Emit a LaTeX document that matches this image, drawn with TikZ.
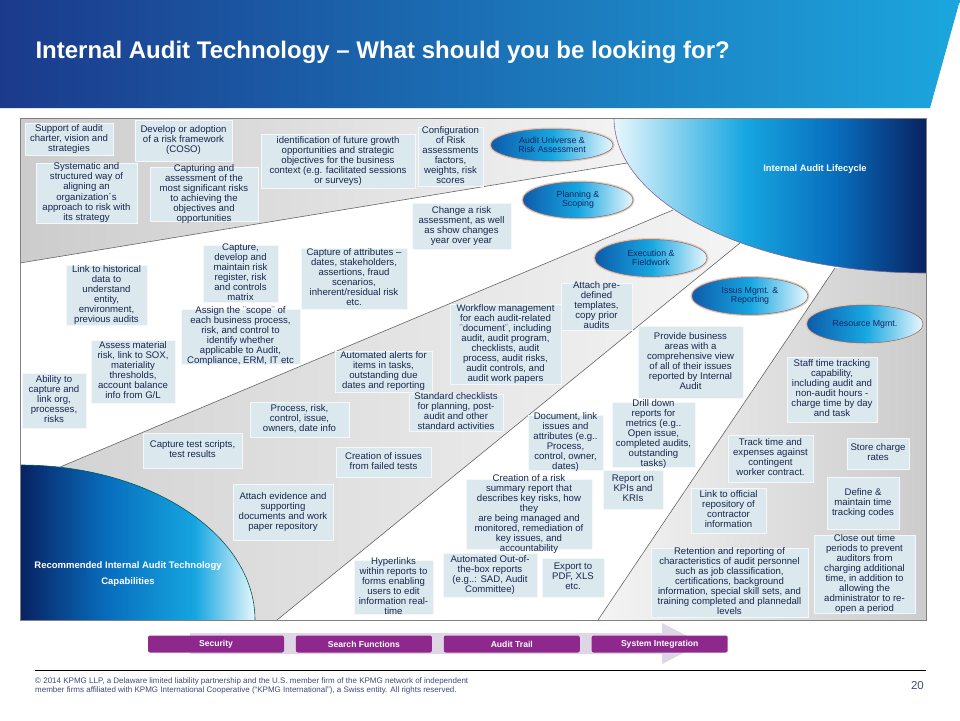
\documentclass[tikz,border=0pt]{standalone}
\usepackage{fontspec}
\setmainfont{Liberation Sans}
\usetikzlibrary{positioning,shapes.geometric}

\definecolor{bannerdark}{RGB}{27,58,140}
\definecolor{bannerlight}{RGB}{28,166,222}
\definecolor{featfill}{RGB}{219,232,238}
\definecolor{featline}{RGB}{244,248,250}
\definecolor{feattext}{RGB}{22,40,78}
\definecolor{bandgray}{RGB}{204,204,204}
\definecolor{bandpale}{RGB}{244,244,244}
\definecolor{navy}{RGB}{8,34,98}
\definecolor{deepblue}{RGB}{8,110,190}
\definecolor{cyanmid}{RGB}{22,166,224}
\definecolor{icepale}{RGB}{232,247,252}
\definecolor{ovaldark}{RGB}{14,92,172}
\definecolor{ovaltext}{RGB}{22,38,100}
\definecolor{ovalglow}{RGB}{222,204,170}
\definecolor{ovaledge}{RGB}{130,100,150}
\definecolor{plum}{RGB}{142,40,140}
\definecolor{lavender}{RGB}{222,214,228}
\definecolor{foottext}{RGB}{60,74,120}

% fixed size text box, text may run over its edges
\newcommand{\featbox}[3]{\vbox to #2pt{\vss\hbox to #1pt{\hss\begin{tabular}{@{}c@{}}#3\end{tabular}\hss}\vss}}

\begin{document}
\begin{tikzpicture}[x=1pt, y=-1pt,
    feat/.style = {rectangle, draw=featline, fill=featfill, inner sep=0pt,
                   text=feattext, font=\fontsize{9.6}{10}\selectfont},
    stage/.style = {ellipse, draw=ovaledge, line width=0.5pt,
                    preaction={draw=ovalglow, line width=3pt},
                    left color=ovaldark, right color=icepale, middle color=cyanmid,
                    inner sep=0pt, align=center, text=ovaltext,
                    font=\fontsize{8.8}{8.8}\selectfont},
    band/.style = {rectangle, rounded corners=2pt, fill=plum, text=white,
                   minimum width=136pt, minimum height=17pt, inner sep=0pt,
                   font=\bfseries\fontsize{8.6}{9}\selectfont},
    divider/.style = {draw=gray!80!black, line width=0.6pt}]
  \useasboundingbox (0,0) rectangle (960,720);

  % title banner
  \shade[left color=bannerdark, right color=bannerlight]
    (0,0) -- (960,0) -- (930,108) -- (0,108) -- cycle;
  \node (title) [anchor=west, text=white, font=\bfseries\fontsize{24}{26}\selectfont]
    at (32,52) {Internal Audit Technology – What should you be looking for?};

  % panel and bands
  \fill[white] (20,118) rectangle (926,620);
  \shade[left color=bandgray, right color=bandpale]
    (20,118) -- (640,118) -- (627,163) -- (20,263) -- cycle;
  \shade[left color=bandgray!90, right color=bandpale]
    (60,467) -- (673,210) -- (740,243) -- (277,620) -- (20,620) -- (20,465) -- cycle;
  \shade[left color=bandpale, right color=bandgray]
    (835,268) -- (926,268) -- (926,620) -- (598,620) -- cycle;
  \draw[divider] (20,263) -- (627,163);
  \draw[divider] (60,467) -- (673,210);
  \draw[divider] (277,620) -- (740,243);
  \draw[divider] (598,620) -- (835,268);

  % lifecycle and capabilities corners
  \begin{scope}
    \clip (926,118) ellipse [x radius=312pt, y radius=155pt];
    \shade[left color=icepale, right color=cyanmid] (614,118) rectangle (745.5,273);
    \shade[left color=cyanmid, right color=navy, middle color=deepblue] (745,118) rectangle (926,273);
  \end{scope}
  \begin{scope}
    \clip (20,620) ellipse [x radius=235pt, y radius=155pt];
    \shade[left color=navy, right color=cyanmid, middle color=deepblue] (20,465) rectangle (195.5,620);
    \shade[left color=cyanmid, right color=icepale] (195,465) rectangle (255,620);
  \end{scope}
  \begin{scope}
    \clip (20,118) rectangle (926,620);
    \draw[ovaledge, line width=0.6pt] (926,118) ellipse [x radius=312pt, y radius=155pt];
    \draw[teal!70!black, line width=0.6pt] (20,620) ellipse [x radius=235pt, y radius=155pt];
  \end{scope}
  \draw[gray] (20,118) rectangle (926,620);

  \node (lifecycle) [text=white, font=\bfseries\fontsize{9.4}{11}\selectfont]
    at (815,169) {Internal Audit Lifecycle};
  \node (recommended) [text=white, align=center, font=\bfseries\fontsize{9.5}{16}\selectfont]
    at (128,574) {Recommended Internal Audit Technology\\Capabilities};

  \node (universe) [stage, minimum width=122pt, minimum height=32pt] at (552,145) {Audit Universe \&\\Risk Assessment};
  \node (planning) [stage, minimum width=110pt, minimum height=36pt] at (578,200) {Planning \&\\Scoping};
  \node (execution) [stage, minimum width=112pt, minimum height=37pt] at (651,258) {Execution \&\\Fieldwork};
  \node (issues) [stage, minimum width=116pt, minimum height=37pt] at (750,296) {Issus Mgmt. \&\\Reporting};
  \node (resource) [stage, minimum width=116pt, minimum height=38pt] at (865,324) {Resource Mgmt.};

  % capability boxes
  \node (charter) [feat] at (69,139) {\featbox{88}{32}{Support of audit\\charter, vision and\\strategies}};
  \node (framework) [feat] at (183.5,140.5) {\featbox{97}{41}{Develop or adoption\\of a risk framework\\(COSO)}};
  \node (aligning) [feat] at (86.5,193) {\featbox{101}{60}{Systematic and\\structured way of\\aligning an\\organization´s\\approach to risk with\\its strategy}};
  \node (significant) [feat] at (204,194) {\featbox{108}{54}{Capturing and\\assessment of the\\most significant risks\\to achieving the\\objectives and\\opportunities}};
  \node (growth) [feat] at (338,161) {\featbox{154}{54}{identification of future growth\\opportunities and strategic\\objectives for the business\\context (e.g. facilitated sessions\\or surveys)}};
  \node (weights) [feat] at (450.5,156.5) {\featbox{65}{59}{Configuration\\of Risk\\assessments\\factors,\\weights, risk\\scores}};
  \node (history) [feat] at (106.5,295) {\featbox{81}{60}{Link to historical\\data to\\understand\\entity,\\environment,\\previous audits}};
  \node (register) [feat] at (240.5,273.5) {\featbox{75}{57}{Capture,\\develop and\\maintain risk\\register, risk\\and controls\\matrix}};
  \node (attributes) [feat] at (354,278.5) {\featbox{106}{61}{Capture of attributes –\\dates, stakeholders,\\assertions, fraud\\scenarios,\\inherent/residual risk\\etc.}};
  \node (change) [feat] at (461.5,226) {\featbox{99}{46}{Change a risk\\assessment, as well\\as show changes\\year over year}};
  \node (templates) [feat] at (596.5,306.5) {\featbox{71}{47}{Attach pre-\\defined\\templates,\\copy prior\\audits}};
  \node (scope) [feat] at (240.5,336.5) {\featbox{119}{55}{Assign the ¨scope¨ of\\each business process,\\risk, and control to\\identify whether\\applicable to Audit,\\Compliance, ERM, IT etc}};
  \node (material) [feat] at (133,371.5) {\featbox{84}{63}{Assess material\\risk, link to SOX,\\materiality\\thresholds,\\account balance\\info from G/L}};
  \node (linkorg) [feat] at (54,400.5) {\featbox{64}{55}{Ability to\\capture and\\link org,\\processes,\\risks}};
  \node (scripts) [feat] at (192.5,450.5) {\featbox{99}{35}{Capture test scripts,\\test results}};
  \node (owners) [feat] at (299.5,419.5) {\featbox{99}{35}{Process, risk,\\control, issue,\\owners, date info}};
  \node (alerts) [feat] at (383.5,371.5) {\featbox{97}{41}{Automated alerts for\\items in tasks,\\outstanding due\\dates and reporting}};
  \node (workflow) [feat] at (505.5,344) {\featbox{111}{80}{Workflow management\\for each audit-related\\¨document¨, including\\audit, audit program,\\checklists, audit\\process, audit risks,\\audit controls, and\\audit work papers}};
  \node (checklists) [feat] at (456,412.5) {\featbox{94}{37}{Standard checklists\\for planning, post-\\audit and other\\standard activities}};
  \node (failed) [feat] at (383.5,462) {\featbox{95}{30}{Creation of issues\\from failed tests}};
  \node (linkissues) [feat] at (565.5,442.5) {\featbox{75}{55}{Document, link\\issues and\\attributes (e.g..\\Process,\\control, owner,\\dates)}};
  \node (issueview) [feat] at (690.5,362) {\featbox{105}{72}{Provide business\\areas with a\\comprehensive view\\of all of their issues\\reported by Internal\\Audit}};
  \node (drill) [feat] at (653.5,434.5) {\featbox{83}{65}{Drill down\\reports for\\metrics (e.g..\\Open issue,\\completed audits,\\outstanding\\tasks)}};
  \node (kpi) [feat] at (633,489.5) {\featbox{60}{39}{Report on\\KPIs and\\KRIs}};
  \node (stafftime) [feat] at (832,389.5) {\featbox{90}{65}{Staff time tracking\\capability,\\including audit and\\non-audit hours -\\charge time by day\\and task}};
  \node (expenses) [feat] at (770.5,458.5) {\featbox{85}{47}{Track time and\\expenses against\\contingent\\worker contract.}};
  \node (rates) [feat] at (878,453.5) {\featbox{62}{31}{Store charge\\rates}};
  \node (contractor) [feat] at (728.5,510.5) {\featbox{75}{45}{Link to official\\repository of\\contractor\\information}};
  \node (codes) [feat] at (863,503) {\featbox{72}{52}{Define \&\\maintain time\\tracking codes}};
  \node (closeout) [feat] at (864.5,574) {\featbox{101}{78}{Close out time\\periods to prevent\\auditors from\\charging additional\\time, in addition to\\allowing the\\administrator to re-\\open a period}};
  \node (personnel) [feat] at (729.5,582.5) {\featbox{157}{69}{Retention and reporting of\\characteristics of audit personnel\\such as job classification,\\certifications, background\\information, special skill sets, and\\training completed and plannedall\\levels}};
  \node (evidence) [feat] at (283,512) {\featbox{100}{56}{Attach evidence and\\supporting\\documents and work\\paper repository}};
  \node (summary) [feat] at (529,514) {\featbox{126}{70}{Creation of a risk\\summary report that\\describes key risks, how\\they\\are being managed and\\monitored, remediation of\\key issues, and\\accountability}};
  \node (hyperlinks) [feat] at (393.5,587) {\featbox{79}{54}{Hyperlinks\\within reports to\\forms enabling\\users to edit\\information real-\\time}};
  \node (outofbox) [feat] at (490,575) {\featbox{94}{44}{Automated Out-of-\\the-box reports\\(e.g..: SAD, Audit\\Committee)}};
  \node (export) [feat] at (573,577.5) {\featbox{62}{39}{Export to\\PDF, XLS\\etc.}};

  % foundation arrow
  \fill[lavender] (190,633) -- (662,633) -- (662,623) -- (702,643.5) -- (662,664)
    -- (662,654) -- (190,654) -- cycle;
  \node (security) [band] at (216,644) {Security};
  \node (search) [band, right=11.5pt of security] {Search Functions};
  \node (trail) [band, right=11.5pt of search] {Audit Trail};
  \node (integration) [band, right=11.5pt of trail] {System Integration};

  % footer
  \draw[black, line width=0.8pt] (35,670) -- (926,670);
  \node (legal) [anchor=north west, align=left, inner sep=0pt, text=foottext,
                 font=\fontsize{8}{9.5}\selectfont] at (35,677)
    {© 2014 KPMG LLP, a Delaware limited liability partnership and the U.S. member firm of the KPMG network of independent\\member firms affiliated with KPMG International Cooperative (“KPMG International”), a Swiss entity. All rights reserved.};
  \node (page) [anchor=east, inner sep=0pt, text=foottext, font=\fontsize{11.5}{13}\selectfont]
    at (924,686) {20};
\end{tikzpicture}
\end{document}
